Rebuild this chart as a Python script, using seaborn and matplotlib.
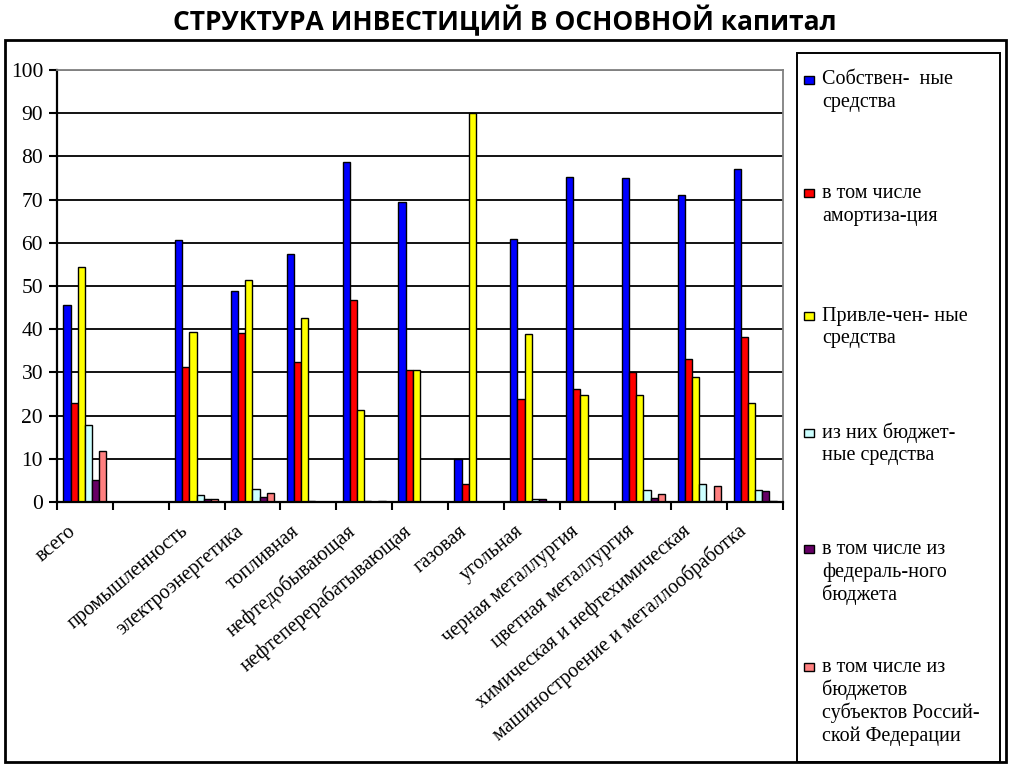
import numpy as np
import pandas as pd
import matplotlib
matplotlib.use("Agg")
import matplotlib.pyplot as plt
import matplotlib.transforms as mtransforms
from matplotlib.patches import Rectangle
import seaborn as sns

categories = ["всего", " ", "промышленность", "электроэнергетика", "топливная",
              "нефтедобывающая", "нефтеперерабатывающая", "газовая", "угольная",
              "черная металлургия", "цветная металлургия",
              "химическая и нефтехимическая", "машиностроение и металлообработка"]

series = ["Собствен- ные средства", "в том числе амортиза-ция", "Привле-чен- ные средства",
          "из них бюджет- ные средства", "в том числе из федераль-ного бюджета",
          "в том числе из бюджетов субъектов Россий-ской Федерации"]

legend_lines = [["Собствен-  ные", "средства"],
                ["в том числе", "амортиза-ция"],
                ["Привле-чен- ные", "средства"],
                ["из них бюджет-", "ные средства"],
                ["в том числе из", "федераль-ного", "бюджета"],
                ["в том числе из", "бюджетов", "субъектов Россий-", "ской Федерации"]]

own_funds    = [45.6, np.nan, 60.7, 48.8, 57.5, 78.8, 69.4, 9.9, 60.9, 75.2, 74.9, 71.1, 77.1]
depreciation = [23.0, np.nan, 31.3, 39.1, 32.4, 46.8, 30.6, 4.1, 23.8, 26.1, 30.2, 33.0, 38.1]
borrowed     = [54.5, np.nan, 39.4, 51.4, 42.7, 21.3, 30.6, 90.0, 38.9, 24.8, 24.8, 29.0, 23.0]
budget       = [17.8, np.nan, 1.7, 3.0, 0.3, 0.3, 0.0, 0.0, 0.8, 0.0, 2.8, 4.1, 2.8]
federal      = [5.2, np.nan, 0.8, 1.1, 0.1, 0.0, 0.0, 0.0, 0.8, 0.0, 0.9, 0.3, 2.5]
regional     = [11.7, np.nan, 0.8, 2.1, 0.0, 0.3, 0.0, 0.0, 0.0, 0.0, 1.9, 3.8, 0.3]

colors = ["#0000FF", "#FF0000", "#FFFF00", "#CCFFFF", "#660066", "#FF8080"]

values = [own_funds, depreciation, borrowed, budget, federal, regional]
rows = []
for s, vals in zip(series, values):
    for c, v in zip(categories, vals):
        rows.append({"cat": c, "series": s, "val": v})
df = pd.DataFrame(rows)

sns.set_theme(style="white")
plt.rcParams["font.family"] = ["Liberation Serif", "DejaVu Serif"]
plt.rcParams["text.color"] = "black"
plt.rcParams["xtick.color"] = "black"
plt.rcParams["ytick.color"] = "black"
plt.rcParams["xtick.labelcolor"] = "black"
plt.rcParams["ytick.labelcolor"] = "black"

W, H = 1024, 767
fig = plt.figure(figsize=(W / 100, H / 100), dpi=100)
ax = fig.add_axes([57 / W, 1 - 502 / H, (783 - 57) / W, (502 - 70) / H])

sns.barplot(data=df, x="cat", y="val", hue="series", order=categories,
            hue_order=series, palette=colors, width=0.77, edgecolor="black",
            linewidth=1.0, errorbar=None, legend=False, ax=ax, saturation=1)

ax.set_xlim(-0.5, len(categories) - 0.5)
ax.set_ylim(0, 100)
ax.set_yticks(np.arange(0, 101, 10))
ax.set_xlabel("")
ax.set_ylabel("")
ax.yaxis.grid(True, color="black", linewidth=1.3)
ax.xaxis.grid(False)
ax.set_axisbelow(True)
ax.get_ygridlines()[-1].set_color("#808080")

for side in ["left", "bottom"]:
    ax.spines[side].set_color("black")
    ax.spines[side].set_linewidth(1.6)
for side in ["top", "right"]:
    ax.spines[side].set_color("#808080")
    ax.spines[side].set_linewidth(1.3)

ax.set_xticks(np.arange(-0.5, len(categories), 1.0), minor=True)
ax.tick_params(axis="x", which="major", length=0, pad=0)
ax.tick_params(axis="x", which="minor", length=6, width=1.5, color="black", direction="out", bottom=True)
ax.tick_params(axis="y", which="major", length=6, width=1.5, color="black", direction="out",
               left=True, pad=4, labelsize=15.5, labelcolor="black")

ax.set_xticks(np.arange(len(categories)))
ax.set_xticklabels(categories, rotation=40, ha="right", va="center",
                   rotation_mode="anchor", fontsize=14.5, color="black")
offset = mtransforms.ScaledTranslation(-0.11, -0.27, fig.dpi_scale_trans)
for lab in ax.get_xticklabels():
    lab.set_transform(lab.get_transform() + offset)

# title
fig.text(505 / W, 1 - 21 / H, "СТРУКТУРА ИНВЕСТИЦИЙ В ОСНОВНОЙ капитал",
         ha="center", va="center", fontsize=19, fontweight="bold", color="black",
         family=["Open Sans", "DejaVu Sans"])

# outer frame
def fig_rect(x0, y0, x1, y1, lw, color="black"):
    fig.patches.append(Rectangle((x0 / W, 1 - y1 / H), (x1 - x0) / W, (y1 - y0) / H,
                                 transform=fig.transFigure, fill=False,
                                 edgecolor=color, linewidth=lw))

fig_rect(5, 40, 1006, 762, 2.0)
fig_rect(797, 53, 1000, 762, 1.4)

# legend
first_y = [80, 193, 316, 433, 549, 667]
line_step = 23
for col, lines, y0 in zip(colors, legend_lines, first_y):
    fig.patches.append(Rectangle((804 / W, 1 - (y0 + 4) / H), 10 / W, 8 / H,
                                 transform=fig.transFigure, facecolor=col,
                                 edgecolor="black", linewidth=1.0))
    for i, t in enumerate(lines):
        fig.text(822 / W, 1 - (y0 + i * line_step) / H, t, ha="left", va="center",
                 fontsize=14.5, color="black", family=["Liberation Serif"])

fig.savefig("out.png", dpi=100)
